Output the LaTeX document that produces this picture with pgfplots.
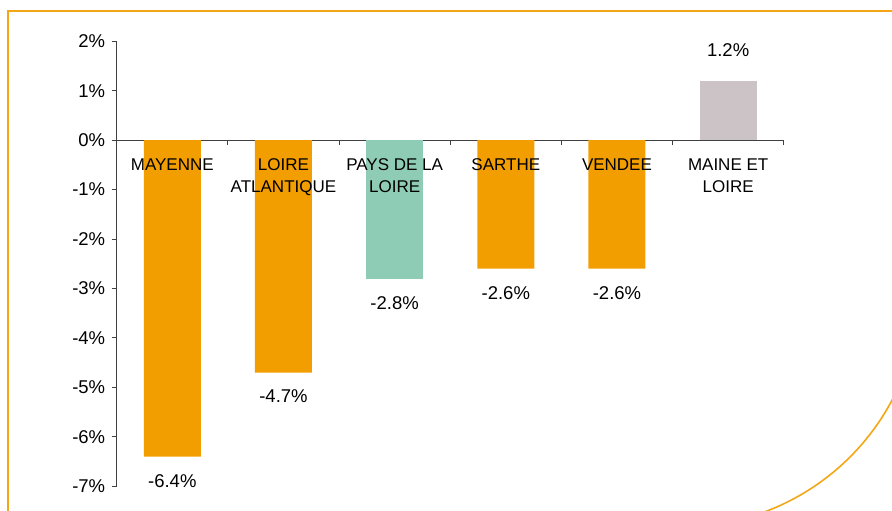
\documentclass[border=0pt]{standalone}
\usepackage{pgfplots}
\pgfplotsset{compat=1.18}
\usepackage{fontspec}
\setmainfont{Liberation Sans}
\definecolor{barorange}{RGB}{243,158,0}
\definecolor{bargreen}{RGB}{142,204,181}
\definecolor{bargrey}{RGB}{203,195,197}
\definecolor{frameorange}{RGB}{245,166,20}
\begin{document}
\begin{tikzpicture}[x=1pt,y=1pt]
\useasboundingbox (0,0) rectangle (892,511);
\begin{scope}
\clip (0,0) rectangle (892,511);
\draw[frameorange, line width=1.6pt] (8,-10) -- (8,500) -- (900,500);
\draw[frameorange, line width=1.6pt] (681,223) ++(-20:239) arc (-20:-75:239);
\end{scope}
\begin{axis}[
  at={(105,50)}, anchor=south west,
  scale only axis, width=667pt, height=445pt,
  xmin=-0.5, xmax=5.5, ymin=-7, ymax=2,
  axis x line=middle, axis y line=left,
  axis line style={-, black!75, line width=0.9pt},
  every tick/.style={black!75, line width=0.9pt},
  major tick length=5pt,
  tick align=outside,
  xtick={-0.5,0.5,1.5,2.5,3.5,4.5,5.5},
  xticklabels={},
  ytick={-7,-6,-5,-4,-3,-2,-1,0,1,2},
  yticklabel={\pgfmathprintnumber{\tick}\%},
  yticklabel style={font=\fontsize{18.5}{20}\selectfont, xshift=-3pt},
  /pgf/number format/assume math mode=true,
  ybar, bar width=57pt,
  nodes near coords={\pgfmathprintnumber[fixed,precision=1,fixed zerofill]{\pgfplotspointmeta}\%},
  nodes near coords align=vertical,
  every node near coord/.append style={font=\fontsize{18.5}{20}\selectfont, black},
  clip=false,
]
\addplot[fill=barorange, draw=none, bar shift=0pt,
  every node near coord/.append style={yshift=-14pt}]
  coordinates {(0,-6.4) (1,-4.7) (3,-2.6) (4,-2.6)};
\addplot[fill=bargreen, draw=none, bar shift=0pt,
  every node near coord/.append style={yshift=-14pt}]
  coordinates {(2,-2.8)};
\addplot[fill=bargrey, draw=none, bar shift=0pt,
  every node near coord/.append style={yshift=21pt}]
  coordinates {(5,1.2)};
\node[anchor=north, inner sep=0pt, yshift=-18pt, align=center, font=\fontsize{17}{22}\selectfont] at (axis cs:0,0) {MAYENNE};
\node[anchor=north, inner sep=0pt, yshift=-18pt, align=center, font=\fontsize{17}{22}\selectfont] at (axis cs:1,0) {LOIRE\\ATLANTIQUE};
\node[anchor=north, inner sep=0pt, yshift=-18pt, align=center, font=\fontsize{17}{22}\selectfont] at (axis cs:2,0) {PAYS DE LA\\LOIRE};
\node[anchor=north, inner sep=0pt, yshift=-18pt, align=center, font=\fontsize{17}{22}\selectfont] at (axis cs:3,0) {SARTHE};
\node[anchor=north, inner sep=0pt, yshift=-18pt, align=center, font=\fontsize{17}{22}\selectfont] at (axis cs:4,0) {VENDEE};
\node[anchor=north, inner sep=0pt, yshift=-18pt, align=center, font=\fontsize{17}{22}\selectfont] at (axis cs:5,0) {MAINE ET\\LOIRE};
\end{axis}
\end{tikzpicture}
\end{document}
